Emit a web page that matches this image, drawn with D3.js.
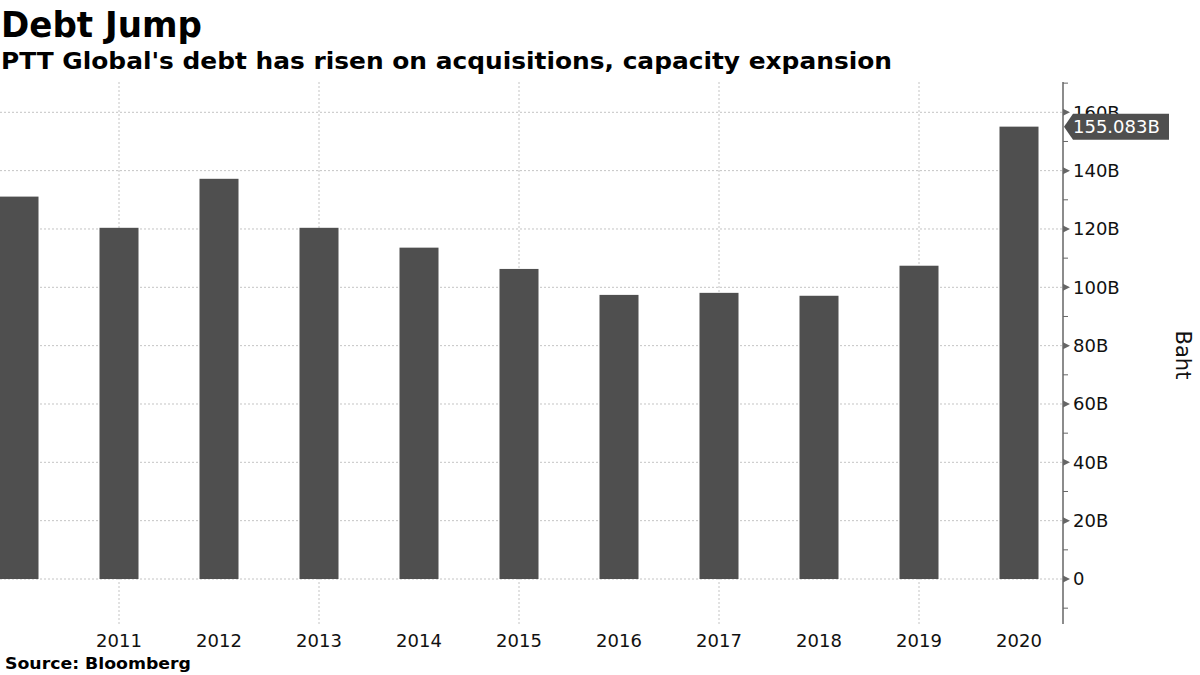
<!DOCTYPE html>
<html>
<head>
<meta charset="utf-8">
<script src="https://cdn.jsdelivr.net/npm/d3@7"></script>
<style>
  body { margin: 0; background: #fff; }
  text { font-family: "DejaVu Sans", sans-serif; }
  .grid line { stroke: #c4c4c4; stroke-dasharray: 2,2; stroke-width: 1; }
</style>
</head>
<body>
<script>
var w = 1200, h = 675;

// data (billions of baht)
var years = [2010, 2011, 2012, 2013, 2014, 2015, 2016, 2017, 2018, 2019, 2020];
var debt = [131.1, 120.4, 137.2, 120.4, 113.6, 106.3, 97.4, 98.1, 97.1, 107.4, 155.083];
var yTicks = [0, 20, 40, 60, 80, 100, 120, 140, 160];
var yMinorTicks = [-10, 10, 30, 50, 70, 90, 110, 130, 150, 170];
var xLabelYears = [2011, 2012, 2013, 2014, 2015, 2016, 2017, 2018, 2019, 2020];
var xGridYears = [2011, 2013, 2015, 2017, 2019];
var lastLabel = "155.083B";

var plot = {left: 0, right: 1063, top: 82, bottom: 624};

var svg = d3.select("body").append("svg")
    .attr("width", w)
    .attr("height", h);

var x = d3.scalePoint().domain(years).range([19, 1019]);
var y = d3.scaleLinear().domain([0, 160]).range([579, 112.3]);
var barWidth = 39;

// horizontal grid
svg.append("g").attr("class", "grid")
  .selectAll("line").data(yTicks).enter().append("line")
    .attr("x1", plot.left).attr("x2", plot.right)
    .attr("y1", function(d) { return y(d); })
    .attr("y2", function(d) { return y(d); });

// vertical grid
svg.append("g").attr("class", "grid")
  .selectAll("line").data(xGridYears).enter().append("line")
    .attr("x1", function(d) { return x(d); })
    .attr("x2", function(d) { return x(d); })
    .attr("y1", plot.top).attr("y2", plot.bottom);

// bars
svg.append("defs").append("clipPath").attr("id", "clip")
  .append("rect").attr("x", 0).attr("y", 0).attr("width", plot.right).attr("height", h);

svg.append("g").attr("clip-path", "url(#clip)")
  .selectAll("rect").data(years).enter().append("rect")
    .attr("x", function(d) { return x(d) - barWidth / 2; })
    .attr("width", barWidth)
    .attr("y", function(d, i) { return y(debt[i]); })
    .attr("height", function(d, i) { return y(0) - y(debt[i]); })
    .attr("fill", "#4f4f4f");

// right axis
var axis = svg.append("g");
axis.append("line")
    .attr("x1", plot.right).attr("x2", plot.right)
    .attr("y1", plot.top).attr("y2", plot.bottom)
    .attr("stroke", "#666").attr("stroke-width", 1.5);

axis.selectAll(".minor").data(yMinorTicks).enter().append("line")
    .attr("class", "minor")
    .attr("x1", plot.right).attr("x2", plot.right + 5)
    .attr("y1", function(d) { return y(d); })
    .attr("y2", function(d) { return y(d); })
    .attr("stroke", "#666").attr("stroke-width", 1);

axis.selectAll(".major").data(yTicks).enter().append("path")
    .attr("class", "major")
    .attr("d", function(d) {
      var yy = y(d);
      return "M" + plot.right + "," + (yy - 3.5) + "L" + (plot.right + 7) + "," + yy + "L" + plot.right + "," + (yy + 3.5) + "Z";
    })
    .attr("fill", "#666");

axis.selectAll(".lbl").data(yTicks).enter().append("text")
    .attr("class", "lbl")
    .attr("x", plot.right + 10)
    .attr("y", function(d) { return y(d); })
    .attr("dy", "0.36em")
    .attr("font-size", 18)
    .attr("fill", "#111")
    .text(function(d) { return d === 0 ? "0" : d + "B"; });

// last value callout
var ly = y(debt[debt.length - 1]);
svg.append("path")
    .attr("d", "M" + (plot.right + 1) + "," + ly +
               "L" + (plot.right + 10) + "," + (ly - 13) +
               "L1169," + (ly - 13) + "L1169," + (ly + 13) +
               "L" + (plot.right + 10) + "," + (ly + 13) + "Z")
    .attr("fill", "#4f4f4f");
svg.append("text")
    .attr("x", 1073).attr("y", ly).attr("dy", "0.36em")
    .attr("font-size", 18).attr("fill", "#fff")
    .text(lastLabel);

// x labels
svg.append("g").selectAll("text").data(xLabelYears).enter().append("text")
    .attr("x", function(d) { return x(d); })
    .attr("y", 647)
    .attr("text-anchor", "middle")
    .attr("font-size", 18)
    .attr("fill", "#111")
    .text(function(d) { return d; });

// y axis title
svg.append("text")
    .attr("transform", "translate(1176,355) rotate(90)")
    .attr("text-anchor", "middle")
    .attr("font-size", 21)
    .attr("fill", "#111")
    .text("Baht");

// titles
svg.append("text")
    .attr("x", 1).attr("y", 37)
    .attr("font-size", 35).attr("font-weight", "bold")
    .attr("textLength", 201).attr("lengthAdjust", "spacingAndGlyphs")
    .text("Debt Jump");

svg.append("text")
    .attr("x", 1).attr("y", 69)
    .attr("font-size", 23).attr("font-weight", "bold")
    .attr("textLength", 891).attr("lengthAdjust", "spacingAndGlyphs")
    .text("PTT Global's debt has risen on acquisitions, capacity expansion");

svg.append("text")
    .attr("x", 5).attr("y", 669)
    .attr("font-size", 16).attr("font-weight", "bold")
    .attr("textLength", 186).attr("lengthAdjust", "spacingAndGlyphs")
    .text("Source: Bloomberg");
</script>
</body>
</html>
